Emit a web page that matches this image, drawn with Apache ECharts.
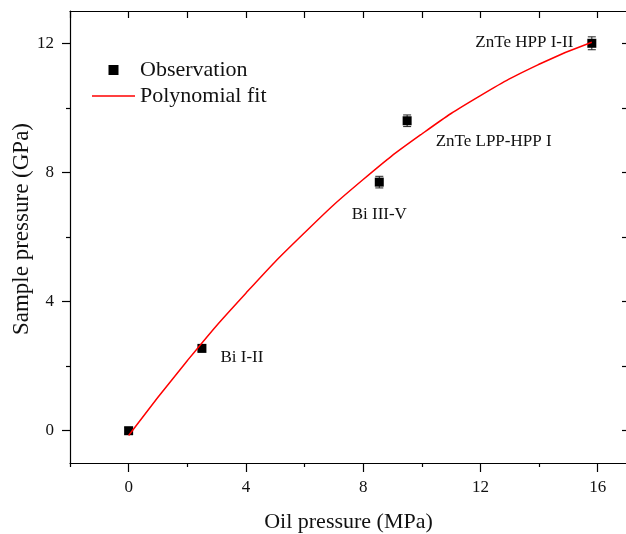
<!DOCTYPE html>
<html>
<head>
<meta charset="utf-8">
<script src="https://cdn.jsdelivr.net/npm/echarts@6/dist/echarts.min.js"></script>
<style>
  html, body { margin: 0; padding: 0; background: #fff; }
  #chart { width: 626px; height: 534px; }
</style>
</head>
<body>
<div id="chart"></div>
<script>
// observed points (oil pressure in MPa, sample pressure in GPa)
var oilPressure = [0, 2.5, 8.55, 9.5, 15.8];
var samplePressure = [0, 2.55, 7.7, 9.6, 12.0];
var errBar = [0.1, 0.1, 0.18, 0.18, 0.2];
var pointNames = ["", "Bi I-II", "Bi III-V", "ZnTe LPP-HPP I", "ZnTe HPP I-II"];

// polynomial fit curve
var fitX = [0, 2, 4, 6, 8, 10, 12, 14, 15.8];
var fitY = [-0.15, 2.17, 4.26, 6.13, 7.78, 9.19, 10.38, 11.35, 12.03];

// ticks
var xMajor = [0, 4, 8, 12, 16];
var xMinor = [-2, 2, 6, 10, 14];
var xAllTicks = [-2, 0, 2, 4, 6, 8, 10, 12, 14, 16];
var yMajor = [0, 4, 8, 12];
var yMinor = [2, 6, 10];
var yAllTicks = [0, 2, 4, 6, 8, 10, 12];

var FONT = "Liberation Serif";

// where each annotation sits relative to its point
var labelSpots = [
  { show: false },
  { show: true, position: "right", distance: 14, offset: [0, 9] },
  { show: true, position: "bottom", distance: 19 },
  { show: true, position: "right", distance: 24, offset: [0, 21] },
  { show: true, position: "left", distance: 14, offset: [0, -1] }
];

var chart = echarts.init(document.getElementById("chart"));

var obsData = oilPressure.map(function (x, i) {
  return {
    value: [x, samplePressure[i]],
    name: pointNames[i],
    label: Object.assign({
      formatter: "{b}",
      fontFamily: FONT,
      fontSize: 17,
      color: "#111"
    }, labelSpots[i])
  };
});

var errData = oilPressure.map(function (x, i) {
  return [x, samplePressure[i] - errBar[i], samplePressure[i] + errBar[i]];
});

var fitData = fitX.map(function (x, i) {
  return [x, fitY[i]];
});

var black = { color: "#000", width: 1.2 };

var option = {
  animation: false,
  backgroundColor: "#fff",
  grid: [
    { left: 70, right: -1, top: 11, bottom: 71, outerBoundsMode: "none", containLabel: false },
    { left: 70, right: -1, top: 11, bottom: 71, outerBoundsMode: "none", containLabel: false }
  ],
  legend: {
    orient: "vertical",
    left: 87,
    top: 54,
    itemWidth: 43,
    itemHeight: 10,
    itemGap: 4,
    symbolKeepAspect: true,
    data: [
      { name: "Observation", icon: "path://M0,0h10v10h-10z", itemStyle: { color: "#000", opacity: 1 } },
      { name: "Polynomial fit", icon: "path://M0,0h43v1.5h-43z" }
    ],
    textStyle: { fontFamily: FONT, fontSize: 22, color: "#111" }
  },
  xAxis: [
    {
      gridIndex: 0, type: "value", min: -2, max: 17, position: "bottom",
      axisLine: { show: true, onZero: false, lineStyle: black },
      axisTick: { show: true, customValues: xMajor, length: 9, lineStyle: black },
      axisLabel: { customValues: xMajor, fontFamily: FONT, fontSize: 17, color: "#111", margin: 16 },
      splitLine: { show: false },
      name: "Oil pressure (MPa)", nameLocation: "middle", nameGap: 48, nameMoveOverlap: false,
      nameTextStyle: { fontFamily: FONT, fontSize: 22, color: "#111" }
    },
    {
      gridIndex: 0, type: "value", min: -2, max: 17, position: "top",
      axisLine: { show: true, onZero: false, lineStyle: black },
      axisTick: { show: true, inside: true, customValues: xAllTicks, length: 7, lineStyle: black },
      axisLabel: { show: false },
      splitLine: { show: false }
    },
    {
      gridIndex: 1, type: "value", min: -2, max: 17, position: "bottom",
      axisLine: { show: false, onZero: false },
      axisTick: { show: true, customValues: xMinor, length: 4, lineStyle: black },
      axisLabel: { show: false },
      splitLine: { show: false }
    }
  ],
  yAxis: [
    {
      gridIndex: 0, type: "value", min: -1, max: 13, position: "left",
      axisLine: { show: true, onZero: false, lineStyle: black },
      axisTick: { show: true, customValues: yMajor, length: 8, lineStyle: black },
      axisLabel: { customValues: yMajor, fontFamily: FONT, fontSize: 17, color: "#111", margin: 16 },
      splitLine: { show: false },
      name: "Sample pressure (GPa)", nameLocation: "middle", nameGap: 37, nameMoveOverlap: false,
      nameTextStyle: { fontFamily: FONT, fontSize: 23, color: "#111", padding: [0, 0, 0, 16] }
    },
    {
      gridIndex: 0, type: "value", min: -1, max: 13, position: "right",
      axisLine: { show: true, onZero: false, lineStyle: black },
      axisTick: { show: true, inside: true, customValues: yAllTicks, length: 5, lineStyle: black },
      axisLabel: { show: false },
      splitLine: { show: false }
    },
    {
      gridIndex: 1, type: "value", min: -1, max: 13, position: "left",
      axisLine: { show: false, onZero: false },
      axisTick: { show: true, customValues: yMinor, length: 4, lineStyle: black },
      axisLabel: { show: false },
      splitLine: { show: false }
    }
  ],
  series: [
    {
      type: "custom",
      xAxisIndex: 0, yAxisIndex: 0,
      data: errData,
      z: 2,
      renderItem: function (params, api) {
        var top = api.coord([api.value(0), api.value(2)]);
        var bot = api.coord([api.value(0), api.value(1)]);
        var cap = 4;
        var st = { stroke: "#222", lineWidth: 1 };
        return {
          type: "group",
          children: [
            { type: "line", shape: { x1: top[0], y1: top[1], x2: bot[0], y2: bot[1] }, style: st },
            { type: "line", shape: { x1: top[0] - cap, y1: top[1], x2: top[0] + cap, y2: top[1] }, style: st },
            { type: "line", shape: { x1: bot[0] - cap, y1: bot[1], x2: bot[0] + cap, y2: bot[1] }, style: st }
          ]
        };
      }
    },
    {
      name: "Observation",
      type: "scatter",
      xAxisIndex: 0, yAxisIndex: 0,
      symbol: "rect",
      symbolSize: 9,
      itemStyle: { color: "#000", opacity: 1 },
      data: obsData,
      z: 3
    },
    {
      name: "Polynomial fit",
      type: "line",
      xAxisIndex: 0, yAxisIndex: 0,
      data: fitData,
      smooth: 0.5,
      symbol: "none",
      lineStyle: { color: "#ff0000", width: 1.5 },
      itemStyle: { color: "#ff0000" },
      z: 4
    }
  ]
};

chart.setOption(option);
</script>
</body>
</html>
